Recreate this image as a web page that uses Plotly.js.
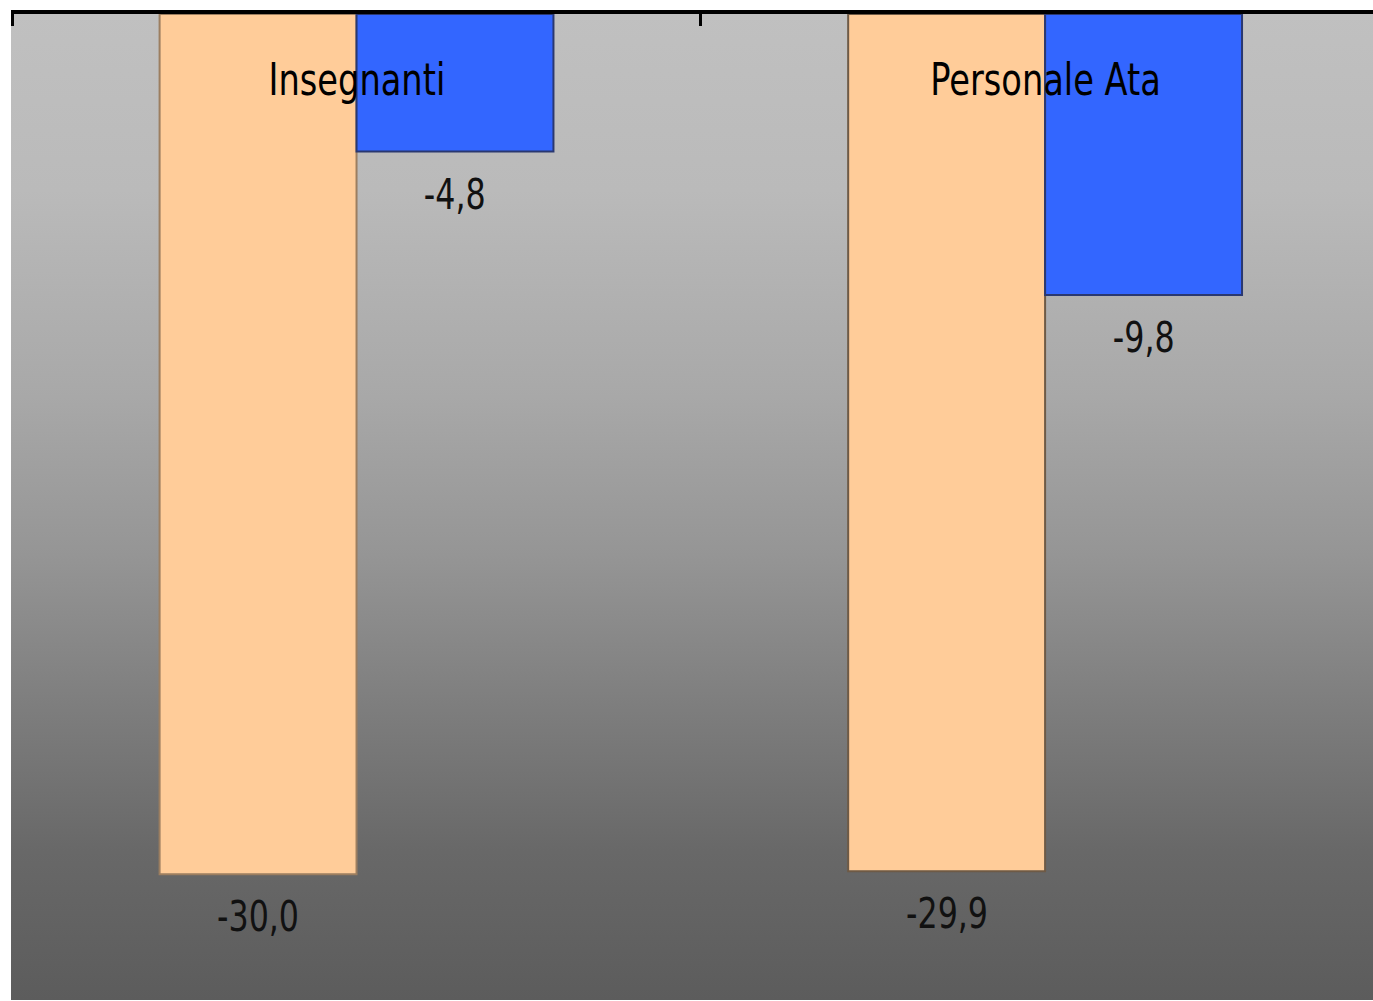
<!DOCTYPE html>
<html>
<head>
<meta charset="utf-8">
<script src="https://cdn.plot.ly/plotly-3.0.1.min.js"></script>
<style>
  html, body { margin: 0; padding: 0; background: #ffffff; overflow: hidden; }
  #wrap { position: relative; width: 1373px; height: 1001px; }
  #bg {
    position: absolute; left: 11px; top: 12px; width: 1362px; height: 988px;
    background: linear-gradient(to bottom,
      #c0c0c0 0%, #bababa 18%, #a8a8a8 39%, #959595 55%, #7e7e7e 70%,
      #686868 85%, #5c5c5c 100%);
  }
  #chart { position: absolute; left: 0; top: 0; width: 1373px; height: 1001px; }
  #chart .annotation-text { font-stretch: condensed !important; }
</style>
</head>
<body>
<div id="wrap">
  <div id="bg"></div>
  <div id="chart"></div>
</div>
<script>
// Variazione percentuale del personale scolastico
const categories = ['Insegnanti', 'Personale Ata'];
const seriesA = [-30.0, -29.9];   // barre arancioni
const seriesB = [-4.8, -9.8];     // barre blu

const fmt = v => v.toFixed(1).replace('.', ',');

const BARGAP = 0.428;
const barUnit = (1 - BARGAP) / 2;          // width of one bar in category units
const offA = -barUnit / 2, offB = barUnit / 2;

const xIdx = categories.map((_, i) => i);
const FONT = 'DejaVu Sans Condensed, DejaVu Sans, sans-serif';

const traces = [
  {
    type: 'bar', x: xIdx, y: seriesA,
    marker: { color: '#ffcc99', line: { color: ['#9c7e60', '#6e5a46'], width: 2 } },
    hoverinfo: 'skip'
  },
  {
    type: 'bar', x: xIdx, y: seriesB,
    marker: { color: '#3366ff', line: { color: '#2a3870', width: 2 } },
    hoverinfo: 'skip'
  }
];

const annotations = [];
categories.forEach((c, i) => {
  annotations.push({
    xref: 'x', yref: 'paper', x: i, y: 0.934, text: c, showarrow: false,
    xanchor: 'center', yanchor: 'middle', name: 'cat',
    font: { family: FONT, size: 44, color: '#000000' }
  });
  [[seriesA, offA], [seriesB, offB]].forEach(([s, off]) => {
    annotations.push({
      xref: 'x', yref: 'y', x: i + off, y: s[i], text: fmt(s[i]), showarrow: false,
      xanchor: 'center', yanchor: 'middle', yshift: -42, name: 'val',
      font: { family: FONT, size: 43, color: '#111111' }
    });
  });
});

const layout = {
  width: 1373, height: 1001,
  margin: { l: 11, r: 0, t: 14, b: 1, pad: 0 },
  paper_bgcolor: 'rgba(0,0,0,0)',
  plot_bgcolor: 'rgba(0,0,0,0)',
  barmode: 'group', bargap: BARGAP, bargroupgap: 0,
  showlegend: false,
  xaxis: {
    type: 'linear', side: 'top', range: [-0.5018, 1.4762],
    tickvals: [-0.5, 0.5, 1.5], showticklabels: false,
    ticks: 'inside', ticklen: 12, tickwidth: 3, tickcolor: '#000000',
    showline: true, linecolor: '#000000', linewidth: 4,
    showgrid: false, zeroline: false, fixedrange: true
  },
  yaxis: {
    range: [-34.39, 0], showticklabels: false, showgrid: false,
    zeroline: false, showline: false, ticks: '', fixedrange: true
  },
  annotations: annotations
};

// Narrow the label glyphs horizontally around their own centres
function narrowLabels(gd) {
  const texts = gd.querySelectorAll('.annotation-text');
  texts.forEach((t, k) => {
    const ann = gd.layout.annotations[k];
    const sx = ann && ann.name === 'cat' ? 0.85 : 0.82;
    const bb = t.getBBox();
    const cx = bb.x + bb.width / 2;
    const prev = t.getAttribute('transform') || '';
    t.setAttribute('transform',
      prev + ` translate(${cx},0) scale(${sx},1) translate(${-cx},0)`);
  });
}

Plotly.newPlot('chart', traces, layout, { displayModeBar: false, staticPlot: true })
  .then(narrowLabels);
</script>
</body>
</html>
